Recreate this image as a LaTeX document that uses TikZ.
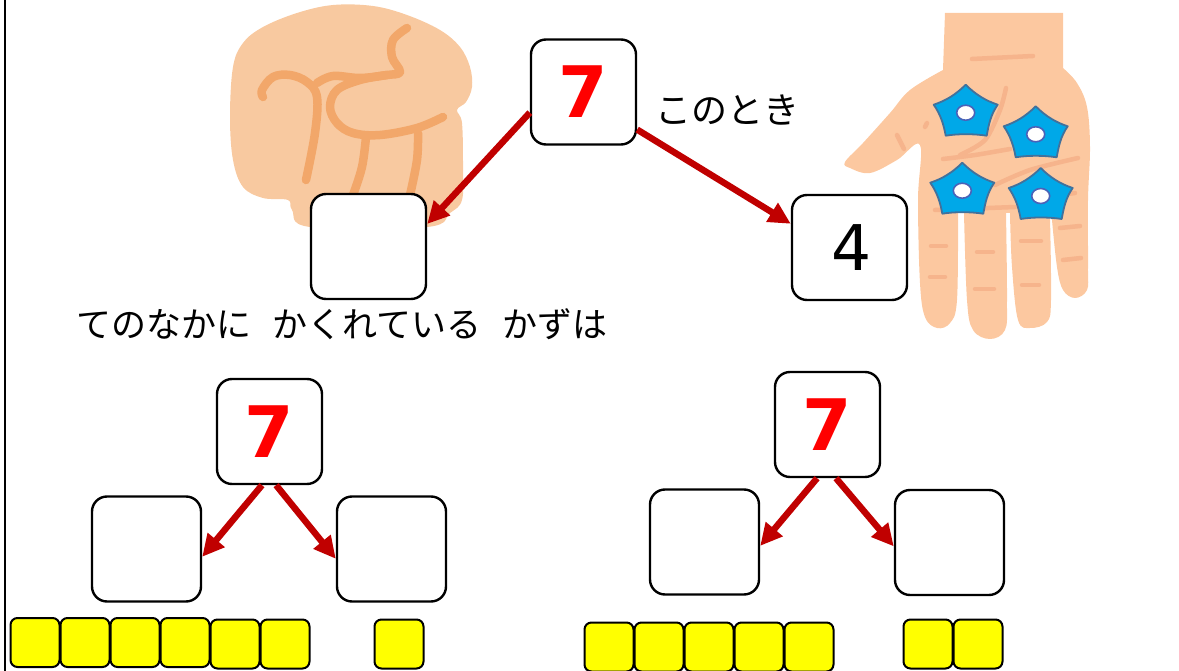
\documentclass[tikz,border=0pt]{standalone}
\usepackage{fontspec}
\usetikzlibrary{arrows.meta}
\setmainfont{DejaVu Sans}
\newfontfamily\jpfont{Noto Sans CJK JP}
\definecolor{fistskin}{HTML}{F8C9A0}
\definecolor{fistline}{HTML}{F2A76A}
\definecolor{handskin}{HTML}{FCC8A0}
\definecolor{handline}{HTML}{F6B48C}
\definecolor{chipblue}{HTML}{00A8E8}
\definecolor{chipedge}{HTML}{41719C}
\definecolor{chiphole}{HTML}{4A62B8}
\definecolor{splitred}{HTML}{C00000}
\definecolor{blockyellow}{RGB}{255,255,0}

\begin{document}
\begin{tikzpicture}[x=1pt,y=-1pt]
      \tikzstyle{numbox}=[draw=black, fill=white, line width=2.4pt, rounded corners=15pt, inner sep=0pt, font=\fontsize{63}{63}\selectfont]
      \tikzstyle{small box}=[numbox, minimum width=105pt, minimum height=105pt]
      \tikzstyle{big box}=[numbox, minimum width=115pt, minimum height=105pt]
      \tikzstyle{mid box}=[numbox, minimum width=109pt, minimum height=105pt]
      \tikzstyle{seven}=[text=red, font=\fontsize{71}{71}\selectfont\bfseries]
      \tikzstyle{block}=[draw=black, fill=blockyellow, line width=2pt, rounded corners=7pt, minimum size=49pt, inner sep=0pt]
      \tikzstyle{split}=[-{Triangle[length=22pt,width=21pt]}, draw=splitred, line width=6.5pt, shorten >=0pt]
      \tikzstyle{note}=[inner sep=0pt]
      \tikzstyle{crease}=[draw=fistline, line width=8.5pt, line cap=round, line join=round]
      \tikzstyle{palmline}=[draw=handline, line width=4.5pt, line cap=round]
      \useasboundingbox (0,0) rectangle (1179,671);

      % Left margin rule
      \draw[line width=2pt] (5,0) -- (5,671);

      % Draw the fist
      \fill[fistskin] plot[smooth cycle,tension=0.6] coordinates {(297,13) (333,5) (373,6) (407,15) (440,30) (460,47) (470,67) (472,87) (466,102) (457,110) (462,123) (463,167) (462,200) (450,213) (427,227) (310,227) (292,210) (288,200) (263,198) (243,187) (233,160) (230,117) (233,67) (243,43) (263,27)};
      \draw[crease] plot[smooth,tension=0.6] coordinates {(263,97) (262,90) (273,77) (290,75) (307,82) (317,97) (315,133) (306,180)};
      \draw[crease] plot[smooth,tension=0.6] coordinates {(317,83) (333,76) (360,78) (387,75) (400,72) (392,57) (393,40) (407,28)};
      \draw[crease] plot[smooth,tension=0.6] coordinates {(387,75) (360,80) (337,90) (330,107) (337,123) (353,133) (380,135) (417,128) (443,117)};
      \draw[crease] plot[smooth,tension=0.6] coordinates {(366,137) (362,167) (353,195)};
      \draw[crease] plot[smooth,tension=0.6] coordinates {(418,133) (417,160) (410,195)};

      % Draw the open hand
      \fill[handskin] (945,13) -- (1063,13) -- (1063,68)
          -- plot[smooth,tension=0.6] coordinates {(1063,68) (1077,83) (1087,107) (1090,147) (1088,200) (1088,267) (1087,290) (1075,298) (1063,290) (1057,267) (1052,220)}
          -- (1050,217)
          -- plot[smooth,tension=0.6] coordinates {(1050,217) (1051,300) (1047,322) (1030,328) (1018,320) (1012,267) (1010,213)}
          -- (1006,213)
          -- plot[smooth,tension=0.6] coordinates {(1006,213) (1007,300) (1005,330) (990,339) (973,330) (967,300) (964,213)}
          -- (958,213)
          -- plot[smooth,tension=0.6] coordinates {(958,213) (957,300) (950,323) (937,328) (925,317) (920,283) (918,200) (920,145) (897,160) (870,173) (850,168) (845,162) (863,143) (890,113) (910,90) (943,70)}
          -- cycle;

      % Creases of the hand
      \foreach \crease in {
          {(972,59) (1033,56)},
          {(1006,88) (1000,110) (985,140) (960,155)},
          {(943,159) (975,155) (1010,149)},
          {(995,185) (1030,170) (1078,158)},
          {(935,210) (1015,207)},
          {(925,127) (927,123)},
          {(897,135) (904,149)},
          {(931,246) (946,246)},
          {(930,277) (945,277)},
          {(977,252) (993,252)},
          {(975,289) (994,289)},
          {(1021,241) (1041,241)},
          {(1022,285) (1039,285)},
          {(1060,228) (1080,226)},
          {(1063,260) (1081,258)},
          {(1060,195) (1075,193)}}
          \draw[palmline] plot[smooth] coordinates \crease;

      % Draw the chips on the palm
      \foreach \cx/\cy in {965.7/112.7, 1035.7/134.3, 962.3/190.7, 1040.7/196} {
          \draw[draw=chipedge, fill=chipblue, line width=1.8pt, line join=round]
              (\cx,\cy-28) .. controls (\cx+10,\cy-18) and (\cx+20,\cy-12) .. (\cx+32,\cy-8)
              .. controls (\cx+25,\cy+2) and (\cx+23,\cy+12) .. (\cx+21,\cy+23)
              .. controls (\cx+8,\cy+21) and (\cx-8,\cy+21) .. (\cx-20,\cy+23)
              .. controls (\cx-22,\cy+12) and (\cx-25,\cy+2) .. (\cx-32,\cy-8)
              .. controls (\cx-20,\cy-12) and (\cx-10,\cy-18) .. (\cx,\cy-28) -- cycle;
          \draw[draw=chiphole, fill=white, line width=1.6pt] (\cx,\cy) ellipse (9 and 7.5);
      }

      % Draw the upper tree
      \node[small box, seven] (top7) at (583.5,92) {7};
      \node[big box] (topL) at (368.5,246.5) {};
      \node[big box] (topR) at (849.5,247.5) {\hspace{5pt}4};
      \draw[split] (top7.201) -- (topL.21);
      \draw[split] (top7.-35) -- (topR.158);

      % Draw the left tree
      \node[small box, seven] (leftN) at (269.5,431.5) {7};
      \node[mid box] (leftA) at (146.5,549) {};
      \node[mid box] (leftB) at (391.5,549) {};
      \draw[split] (leftN.-98) -- (leftA.-8);
      \draw[split] (leftN.-83) -- (leftB.190);

      % Draw the right tree
      \node[small box, seven] (rightN) at (827.5,424.5) {7};
      \node[mid box] (rightA) at (704.5,542) {};
      \node[mid box] (rightB) at (949.5,542.5) {};
      \draw[split] (rightN.-101) -- (rightA.-4);
      \draw[split] (rightN.-81) -- (rightB.184);

      % Rows of yellow blocks
      \foreach \i/\bx/\by in {1/35/642.5, 2/85/642.5, 3/135/642.5, 4/185/642.5, 5/235/644, 6/285/644, 7/399/644}
          \node[block] (left-\i) at (\bx,\by) {};
      \foreach \i/\bx in {1/609, 2/659, 3/709, 4/759, 5/809}
          \node[block] (right-\i) at (\bx,647) {};
      \foreach \i/\bx in {6/928, 7/978}
          \node[block] (right-\i) at (\bx,644) {};

      % Annotate
      \node[note, anchor=west, font=\jpfont\fontsize{36}{36}\selectfont] (whenText) at (655,110) {このとき};
      \node[note, anchor=west, font=\jpfont\fontsize{35}{36}\selectfont] (hiddenText) at (76,324) {てのなかに\hspace{21pt}かくれている\hspace{21pt}かずは};
  \end{tikzpicture}
\end{document}
